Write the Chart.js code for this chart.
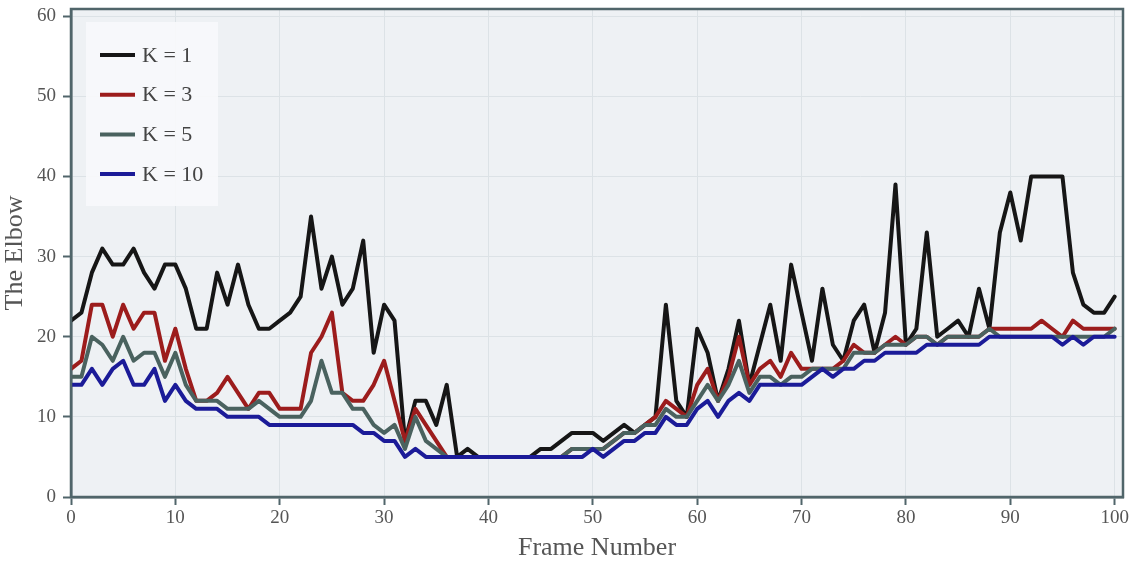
<!DOCTYPE html>
<html>
<head>
<meta charset="utf-8">
<script src="https://cdn.jsdelivr.net/npm/chart.js@4.4.1/dist/chart.umd.min.js"></script>
<style>
  html, body { margin: 0; padding: 0; background: #fff; }
  #wrap { width: 1134px; height: 565px; }
</style>
</head>
<body>
<div id="wrap"><canvas id="elbowChart" width="1134" height="565"></canvas></div>
<script>
// frame numbers 0..100
const frames = Array.from({ length: 101 }, (_, i) => i);

const k1 = [22,23,28,31,29,29,31,28,26,29, 29,26,21,21,28,24,29,24,21,21,
            22,23,25,35,26,30,24,26,32,18, 24,22,7,12,12,9,14,5,6,5,
            5,5,5,5,5,6,6,7,8,8, 8,7,8,9,8,9,10,24,12,10,
            21,18,12,16,22,14,19,24,17,29, 23,17,26,19,17,22,24,18,23,39,
            19,21,33,20,21,22,20,26,21,33, 38,32,40,40,40,40,28,24,23,23, 25];
const k3 = [16,17,24,24,20,24,21,23,23,17, 21,16,12,12,13,15,13,11,13,13,
            11,11,11,18,20,23,13,12,12,14, 17,12,7,11,9,7,5,5,5,5,
            5,5,5,5,5,5,5,5,6,6, 6,6,7,8,8,9,10,12,11,10,
            14,16,12,15,20,14,16,17,15,18, 16,16,16,16,17,19,18,18,19,20,
            19,20,20,19,20,20,20,20,21,21, 21,21,21,22,21,20,22,21,21,21, 21];
const k5 = [15,15,20,19,17,20,17,18,18,15, 18,14,12,12,12,11,11,11,12,11,
            10,10,10,12,17,13,13,11,11,9, 8,9,6,10,7,6,5,5,5,5,
            5,5,5,5,5,5,5,5,6,6, 6,6,7,8,8,9,9,11,10,10,
            12,14,12,14,17,13,15,15,14,15, 15,16,16,16,16,18,18,18,19,19,
            19,20,20,19,20,20,20,20,21,20, 20,20,20,20,20,20,20,20,20,20, 21];
const k10 = [14,14,16,14,16,17,14,14,16,12, 14,12,11,11,11,10,10,10,10,9,
             9,9,9,9,9,9,9,9,8,8, 7,7,5,6,5,5,5,5,5,5,
             5,5,5,5,5,5,5,5,5,5, 6,5,6,7,7,8,8,10,9,9,
             11,12,10,12,13,12,14,14,14,14, 14,15,16,15,16,16,17,17,18,18,
             18,18,19,19,19,19,19,19,20,20, 20,20,20,20,20,19,20,19,20,20, 20];

const seriesLabels = ['K = 1', 'K = 3', 'K = 5', 'K = 10'];
const seriesColors = ['#161616', '#9c1c1c', '#4a625f', '#1b1b98'];
const tickValues = [0, 10, 20, 30, 40, 50, 60, 70, 80, 90, 100];

const frameColor = '#50656a';
const serif = "'Liberation Serif', 'Times New Roman', serif";

function toPoints(vals) {
    return vals.map((v, i) => ({ x: frames[i], y: v }));
}

// plot background + outer frame
const frameBox = {
    id: 'frameBox',
    beforeDraw(chart) {
        const { ctx, chartArea: a } = chart;
        ctx.save();
        ctx.fillStyle = '#eef1f4';
        ctx.fillRect(a.left, a.top, a.right - a.left, a.bottom - a.top);
        ctx.restore();
    },
    afterDatasetsDraw(chart) {
        const { ctx, chartArea: a } = chart;
        ctx.save();
        ctx.strokeStyle = frameColor;
        ctx.lineWidth = 2.5;
        ctx.strokeRect(a.left, a.top, a.right - a.left, a.bottom - a.top);
        ctx.restore();
    }
};

// legend floating inside the plot
const innerLegend = {
    id: 'innerLegend',
    afterDraw(chart) {
        const ctx = chart.ctx;
        ctx.save();
        ctx.fillStyle = 'rgba(247, 249, 251, 0.92)';
        ctx.fillRect(86, 22, 132, 184);
        seriesLabels.forEach((lab, i) => {
            const y = 55 + i * 39.7;
            ctx.strokeStyle = seriesColors[i];
            ctx.lineWidth = 4;
            ctx.beginPath();
            ctx.moveTo(100, y);
            ctx.lineTo(135, y);
            ctx.stroke();
            ctx.fillStyle = '#444';
            ctx.font = '22px ' + serif;
            ctx.textBaseline = 'middle';
            ctx.fillText(lab, 142, y + 1);
        });
        ctx.restore();
    }
};

const ctx = document.getElementById('elbowChart').getContext('2d');

new Chart(ctx, {
    type: 'line',
    data: {
        datasets: seriesLabels.map((lab, i) => ({
            label: lab,
            data: toPoints([k1, k3, k5, k10][i]),
            borderColor: seriesColors[i],
            backgroundColor: seriesColors[i],
            borderWidth: 4,
            borderJoinStyle: 'round',
            borderCapStyle: 'round',
            pointRadius: 0,
            tension: 0,
            fill: false,
            order: 3 - i
        }))
    },
    options: {
        responsive: false,
        animation: false,
        devicePixelRatio: 1,
        layout: { padding: { top: 9, right: 11, left: 0, bottom: 0 } },
        plugins: {
            legend: { display: false },
            tooltip: { enabled: false }
        },
        scales: {
            x: {
                type: 'linear',
                min: 0,
                max: 100.8,
                afterBuildTicks: s => { s.ticks = tickValues.map(v => ({ value: v })); },
                afterFit: s => { s.height = 68; s.paddingLeft = 0; s.paddingRight = 0; },
                ticks: { color: '#555', font: { family: serif, size: 19 }, padding: 2 },
                grid: { color: '#dce2e6', lineWidth: 1, tickColor: frameColor, tickLength: 8, tickWidth: 2 },
                border: { color: frameColor, width: 2.5 },
                title: {
                    display: true,
                    text: 'Frame Number',
                    color: '#555',
                    font: { family: serif, size: 26 },
                    padding: { top: 0, bottom: 1 }
                }
            },
            y: {
                min: 0,
                max: 60.9,
                afterBuildTicks: s => { s.ticks = tickValues.filter(v => v <= 60).map(v => ({ value: v })); },
                afterFit: s => { s.width = 71; s.paddingTop = 0; s.paddingBottom = 0; },
                ticks: { color: '#555', font: { family: serif, size: 19 }, padding: 7 },
                grid: { color: '#dce2e6', lineWidth: 1, tickColor: frameColor, tickLength: 8, tickWidth: 2 },
                border: { color: frameColor, width: 2.5 },
                title: {
                    display: true,
                    text: 'The Elbow',
                    color: '#555',
                    font: { family: serif, size: 26 },
                    padding: { top: 0, bottom: 6 }
                }
            }
        }
    },
    plugins: [frameBox, innerLegend]
});
</script>
</body>
</html>
